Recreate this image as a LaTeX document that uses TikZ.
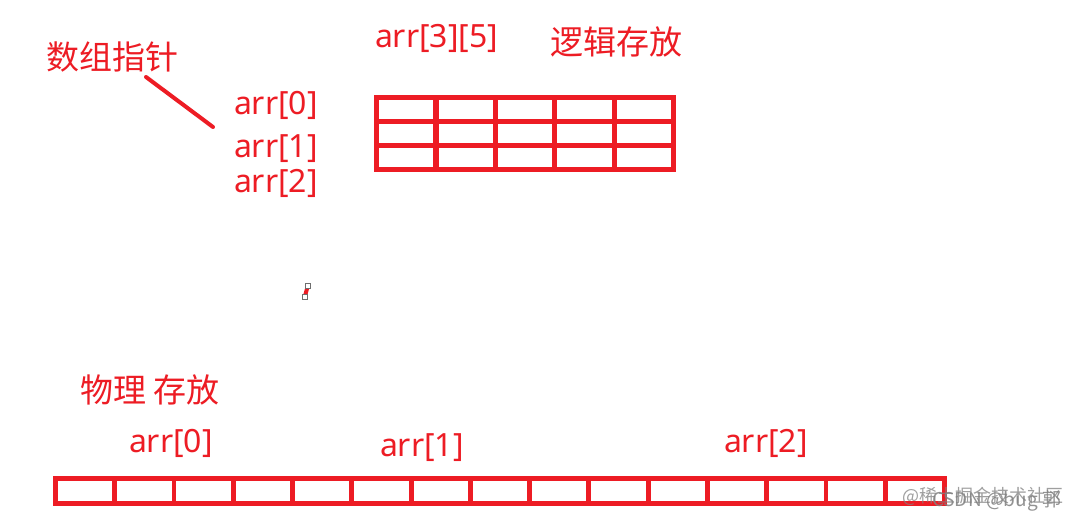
\documentclass[tikz,border=0pt]{standalone}
\usepackage{fontspec}
\usepackage{xcolor}
\setmainfont{Noto Sans}
\newfontfamily\cjk{Noto Sans CJK SC}
\definecolor{paintred}{HTML}{ED1C24}
\definecolor{markgrey}{HTML}{6E6E6E}
\usetikzlibrary{positioning}

\begin{document}
\begin{tikzpicture}[x=1pt,y=-1pt,semithick]
\tikzstyle{every node}=[inner sep=0pt,outer sep=0pt]
\tikzstyle{redtext}=[text=paintred,anchor=base west,font=\fontsize{32}{32}\selectfont]
\tikzstyle{cjktext}=[text=paintred,anchor=base west,font=\fontsize{33}{33}\selectfont\cjk]
\tikzstyle{logcell}=[draw=paintred,line width=5.2pt,minimum width=59.4pt,minimum height=24pt]
\tikzstyle{phycell}=[draw=paintred,line width=4.9pt,minimum width=59.27pt,minimum height=24.5pt]
\tikzstyle{handle}=[draw=markgrey,fill=white,line width=0.7pt,minimum size=4.5pt]
\tikzstyle{wmarka}=[text=gray,opacity=0.75,anchor=base west,font=\fontsize{18}{18}\selectfont\cjk]
\tikzstyle{wmarkb}=[text=gray,opacity=0.85,anchor=base west,font=\fontsize{19}{19}\selectfont\cjk]
\fill[white] (0,0) rectangle (1079,522);
\useasboundingbox (0,0) rectangle (1079,522);

\node[cjktext] (PTRTXT) at (46,69) {数组指针};
\node[redtext] (DIM) at (375,47) {arr[3][5]};
\node[cjktext] (LOGTXT) at (550,54) {逻辑存放};
\node[redtext] (ROW0) at (234,114) {arr[0]};
\node[redtext] (ROW1) at (234,157) {arr[1]};
\node[redtext] (ROW2) at (234,192) {arr[2]};
\node[cjktext] (PHYTXT) at (80,402) {物理 存放};
\node[redtext] (PHY0) at (129,452) {arr[0]};
\node[redtext] (PHY1) at (380,456) {arr[1]};
\node[redtext] (PHY2) at (724,452) {arr[2]};

\foreach \r in {0,1,2}
  \foreach \c in {0,...,4}
    \node[logcell] (L\r\c) at ({406.2+59.4*\c},{109.5+24*\r}) {};

\foreach \c in {0,...,14}
  \node[phycell] (P\c) at ({85.1+59.27*\c},491) {};

\coordinate (PTRA) at (146,77);
\coordinate (PTRB) at (213,127);
\draw[paintred,line width=4pt,line cap=round] (PTRA) -- (PTRB);

\draw[paintred,line width=4pt] (307.5,287) -- (305,296);
\node[handle] (HANDA) at (308,286) {};
\node[handle] (HANDB) at (305,297) {};

\node[wmarka] (WMA) at (902,502) {@稀土掘金技术社区};
\node[wmarkb] (WMB) at (932,506) {CSDN @bug 郭};
\end{tikzpicture}
\end{document}
